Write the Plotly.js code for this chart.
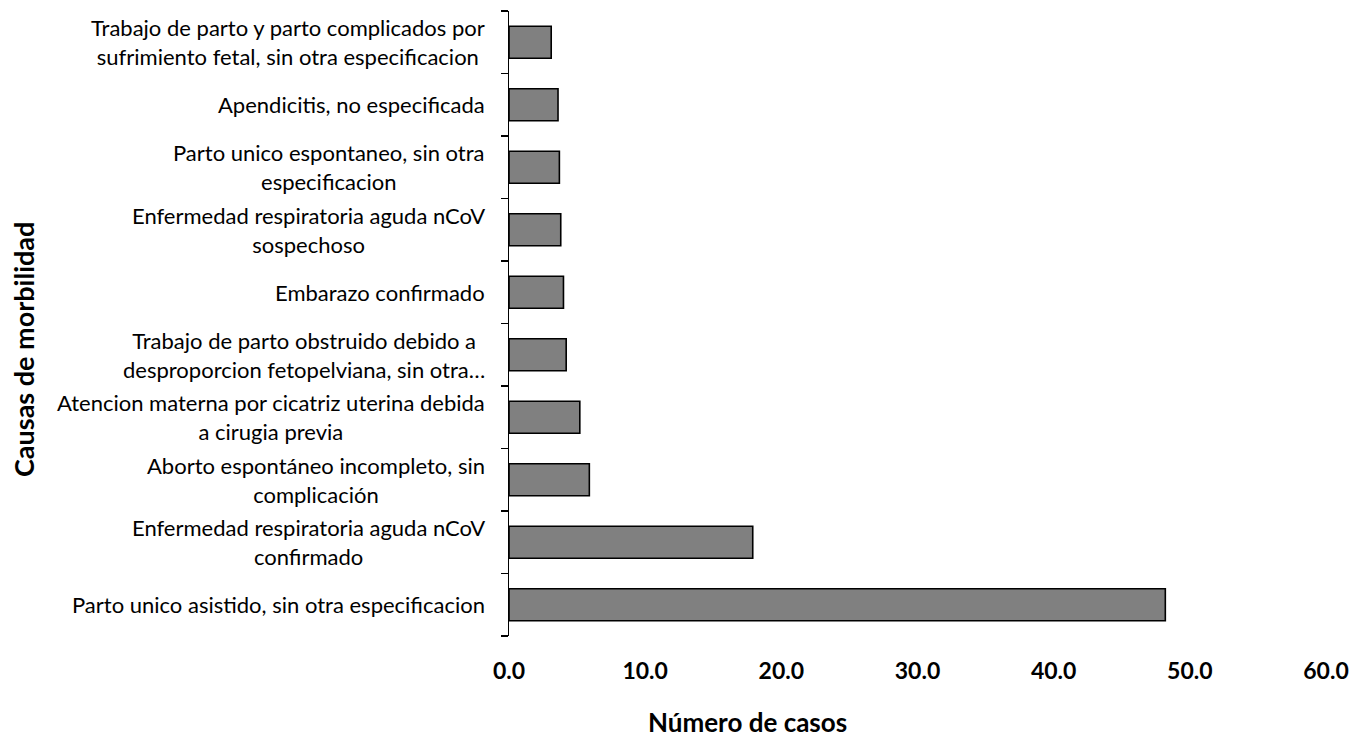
<!DOCTYPE html>
<html>
<head>
<meta charset="utf-8">
<script src="https://cdn.plot.ly/plotly-3.0.1.min.js"></script>
<style>html,body{margin:0;padding:0;background:#fff;}#chart{width:1364px;height:742px;}</style>
</head>
<body>
<div id="chart"></div>
<script>
// Categories listed bottom to top
const categories = [
  "Parto unico asistido, sin otra especificacion",
  "Enfermedad respiratoria aguda nCoV<br>confirmado",
  "Aborto espontáneo incompleto, sin<br>complicación",
  "Atencion materna por cicatriz uterina debida<br>a cirugia previa",
  "Trabajo de parto obstruido debido a<br>desproporcion fetopelviana, sin otra…",
  "Embarazo confirmado",
  "Enfermedad respiratoria aguda nCoV<br>sospechoso",
  "Parto unico espontaneo, sin otra<br>especificacion",
  "Apendicitis, no especificada",
  "Trabajo de parto y parto complicados por<br>sufrimiento fetal, sin otra especificacion"
];
const values = [48.2, 17.9, 5.9, 5.2, 4.2, 4.0, 3.8, 3.7, 3.6, 3.1];
const xTicks = [0, 10, 20, 30, 40, 50, 60];
const xTickLabels = ["0.0", "10.0", "20.0", "30.0", "40.0", "50.0", "60.0"];
const xTitle = "Número de casos";
const yTitle = "Causas de morbilidad";

const FONT = "Lato, 'Open Sans', sans-serif";

const trace = {
  type: "bar",
  orientation: "h",
  x: values,
  y: categories,
  marker: {color: "#808080", line: {color: "#000", width: 1.6}},
  hoverinfo: "x+y"
};

const annotations = categories.map(c => ({
  xref: "paper", yref: "y", x: 0, y: c,
  xanchor: "right", yanchor: "middle", xshift: -22,
  text: c, align: "center", showarrow: false,
  font: {family: FONT, size: 22, color: "#000"}
}));
annotations.push({
  xref: "paper", yref: "paper", x: -0.595, y: 0.459,
  xanchor: "center", yanchor: "middle", textangle: -90,
  text: "<b>" + yTitle + "</b>", showarrow: false,
  font: {family: FONT, size: 27, color: "#000"}
});
annotations.push({
  xref: "paper", yref: "paper", x: 0.2925, y: -0.137,
  xanchor: "center", yanchor: "middle", borderpad: 0,
  text: "<b>" + xTitle + "</b>", showarrow: false,
  font: {family: FONT, size: 26, color: "#000"}
});

const layout = {
  width: 1364, height: 742,
  margin: {l: 509, r: 38, t: 11, b: 106},
  paper_bgcolor: "#fff", plot_bgcolor: "#fff",
  showlegend: false,
  bargap: 0.49,
  font: {family: FONT, color: "#000"},
  xaxis: {
    range: [0, 60], tickvals: xTicks, ticktext: xTickLabels,
    showgrid: false, zeroline: false, showline: false,
    ticks: "outside", ticklen: 14, tickcolor: "rgba(0,0,0,0)",
    tickfont: {family: FONT, size: 23, color: "#000", weight: "bold"}
  },
  yaxis: {
    type: "category", categoryorder: "array", categoryarray: categories,
    showticklabels: false, showgrid: false, zeroline: false,
    showline: true, linecolor: "#000", linewidth: 1.5,
    ticks: "outside", tickson: "boundaries", ticklen: 7, tickwidth: 1.5, tickcolor: "#000"
  },
  annotations: annotations
};

Plotly.newPlot("chart", [trace], layout, {displayModeBar: false, staticPlot: true});
</script>
</body>
</html>
